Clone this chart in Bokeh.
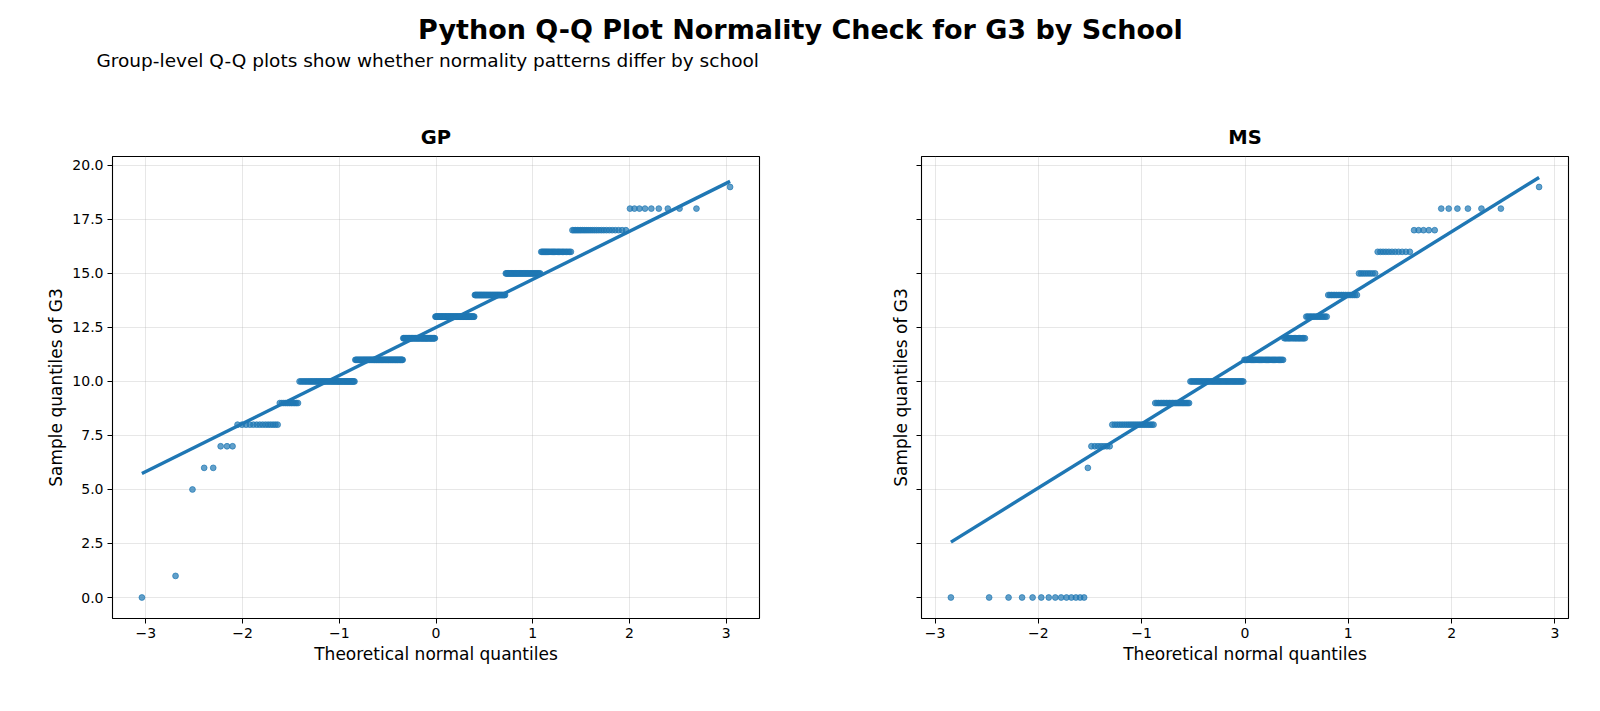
import math
import numpy as np
from bokeh.plotting import figure
from bokeh.layouts import column, row
from bokeh.models import FixedTicker, Range1d
from bokeh.embed import file_html
from bokeh.resources import INLINE
from bokeh.core.properties import value

# Final grade (G3) frequency table per school
grades = [0, 1, 5, 6, 7, 8, 9, 10, 11, 12, 13, 14, 15, 16, 17, 18, 19]
gp_counts = [1, 1, 1, 2, 3, 14, 11, 52, 70, 55, 67, 46, 41, 25, 24, 9, 1]
ms_counts = [14, 0, 0, 1, 7, 21, 24, 45, 34, 17, 15, 17, 8, 11, 5, 6, 1]
schools = ["GP", "MS"]

x_ticks = [-3, -2, -1, 0, 1, 2, 3]
x_tick_labels = ["\u22123", "\u22122", "\u22121", "0", "1", "2", "3"]
y_ticks = [0, 2.5, 5.0, 7.5, 10.0, 12.5, 15.0, 17.5, 20.0]
y_tick_labels = ["0.0", "2.5", "5.0", "7.5", "10.0", "12.5", "15.0", "17.5", "20.0"]

FONT = "DejaVu Sans"
BLUE = "#1f77b4"


def norm_cdf(z):
    return 0.5 * (1.0 + math.erf(z / math.sqrt(2.0)))


def norm_ppf(p):
    lo, hi = -12.0, 12.0
    for _ in range(200):
        mid = 0.5 * (lo + hi)
        if norm_cdf(mid) < p:
            lo = mid
        else:
            hi = mid
    return 0.5 * (lo + hi)


def qq_data(counts):
    sample = np.repeat(np.array(grades, dtype=float), counts)
    n = len(sample)
    theo = np.array([norm_ppf((i - 0.5) / n) for i in range(1, n + 1)])
    # reference line through the sample and theoretical quartiles
    q1, q3 = np.percentile(sample, [25, 75])
    t1, t3 = norm_ppf(0.25), norm_ppf(0.75)
    slope = (q3 - q1) / (t3 - t1)
    intercept = q1 - slope * t1
    lx = np.array([theo.min(), theo.max()])
    ly = intercept + slope * lx
    return theo, sample, lx, ly


series = [qq_data(gp_counts), qq_data(ms_counts)]

# shared y range with 5% padding
y_lo = min(min(s[1].min(), s[3].min()) for s in series)
y_hi = max(max(s[1].max(), s[3].max()) for s in series)
y_pad = 0.05 * (y_hi - y_lo)
shared_y = Range1d(y_lo - y_pad, y_hi + y_pad)

# header with title and subtitle
header = figure(width=1600, height=100, x_range=Range1d(0, 1600), y_range=Range1d(100, 0),
                output_backend="svg", toolbar_location=None,
                x_axis_type=None, y_axis_type=None,
                min_border=0, min_border_left=0, min_border_right=0,
                min_border_top=0, min_border_bottom=0)
header.outline_line_color = None
header.grid.visible = False
header.text(x=[800], y=[29], text=["Python Q-Q Plot Normality Check for G3 by School"],
            text_font=value(FONT), text_font_style="bold", text_font_size="27px",
            text_align="center", text_baseline="alphabetic", text_color="black")
header.text(x=[96], y=[60], text=["Group-level Q-Q plots show whether normality patterns differ by school"],
            text_font=value(FONT), text_font_size="18.5px",
            text_align="left", text_baseline="alphabetic", text_color="black")

panels = []
layout_spec = [(840, 112, 81), (760, 81, 32)]
for k, (name, (theo, sample, lx, ly)) in enumerate(zip(schools, series)):
    w, bl, br = layout_spec[k]
    x_pad = 0.05 * (theo.max() - theo.min())
    p = figure(width=w, height=611,
               x_range=Range1d(theo.min() - x_pad, theo.max() + x_pad),
               y_range=shared_y,
               output_backend="svg", toolbar_location=None,
               min_border_left=bl, min_border_right=br,
               min_border_top=56, min_border_bottom=93)
    p.title.text = name
    p.title.align = "center"
    p.title.text_font = FONT
    p.title.text_font_size = "19.5px"
    p.title.text_font_style = "bold"
    p.title.text_color = "black"
    p.title.standoff = 15

    p.scatter(theo, sample, size=5.8, fill_color=BLUE, line_color=BLUE,
              line_width=1, alpha=0.7)
    p.line(lx, ly, line_width=3.4, line_color=BLUE)

    p.xaxis.ticker = FixedTicker(ticks=x_ticks)
    p.xaxis.major_label_overrides = {t: lab for t, lab in zip(x_ticks, x_tick_labels)}
    p.yaxis.ticker = FixedTicker(ticks=y_ticks)
    if k == 0:
        p.yaxis.major_label_overrides = {t: lab for t, lab in zip(y_ticks, y_tick_labels)}
    else:
        p.yaxis.major_label_overrides = {t: "" for t in y_ticks}

    p.xaxis.axis_label = "Theoretical normal quantiles"
    p.yaxis.axis_label = "Sample quantiles of G3"
    for ax in (p.xaxis, p.yaxis):
        ax.axis_label_text_font = FONT
        ax.axis_label_text_font_size = "17px"
        ax.axis_label_text_font_style = "normal"
        ax.axis_label_text_color = "black"
        ax.major_label_text_font = FONT
        ax.major_label_text_font_size = "14px"
        ax.major_label_text_color = "black"
        ax.axis_line_color = None
        ax.major_tick_line_color = "black"
        ax.major_tick_line_width = 1
        ax.major_tick_out = 5
        ax.major_tick_in = 0
        ax.minor_tick_out = 0
        ax.minor_tick_in = 0
        ax.major_label_standoff = 4
    p.xaxis.axis_label_standoff = 3
    p.yaxis.axis_label_standoff = 3 if k == 0 else 6

    p.grid.grid_line_color = "#b0b0b0"
    p.grid.grid_line_alpha = 0.3
    p.grid.grid_line_width = 1
    p.outline_line_color = "black"
    p.outline_line_width = 1.1
    p.outline_line_alpha = 1.0
    panels.append(p)

layout = column(header, row(*panels, spacing=0), spacing=0)
open("out.html", "w").write(file_html(layout, INLINE))
